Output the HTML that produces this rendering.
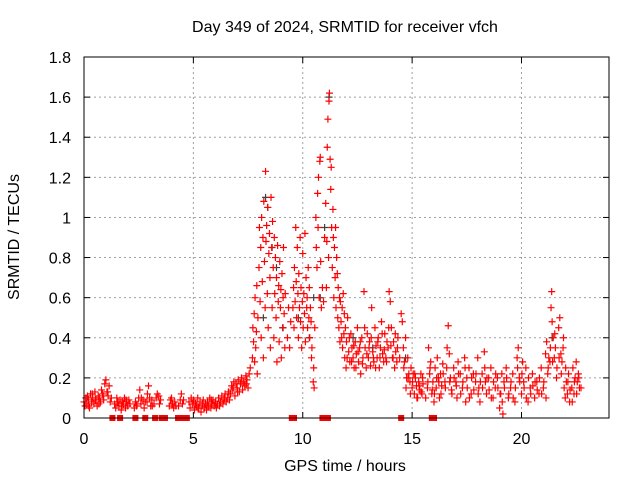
<!DOCTYPE html>
<html><head><meta charset="utf-8"><style>
body{margin:0;background:#fff}
svg{display:block;font-family:"Liberation Sans",sans-serif}
</style></head><body>
<svg id="chart" width="640" height="480" viewBox="0 0 640 480">
<text x="345" y="32" text-anchor="middle" font-size="16">Day 349 of 2024, SRMTID for receiver vfch</text>
<text x="345" y="471" text-anchor="middle" font-size="16">GPS time / hours</text>
<text transform="translate(19,237) rotate(-90)" text-anchor="middle" font-size="16">SRMTID / TECUs</text>
<g id="grid"></g><g id="ticks"></g><g id="marks"></g>
<rect x="84" y="57" width="525" height="361" fill="none" stroke="#000" stroke-width="1"/>
</svg>
<script>
const xTicks=[0,5,10,15,20];
const yTicks=[0,0.2,0.4,0.6,0.8,1,1.2,1.4,1.6,1.8];
const yTickLabels=["0","0.2","0.4","0.6","0.8","1","1.2","1.4","1.6","1.8"];
const redT=[0,.05,.1,.13,.16,.2,.25,.3,.35,.4,.45,.5,.55,.6,.65,.7,.75,.8,.85,.9,.95,1,1.05,1.1,1.15,1.2,1.25,
1.4,1.45,1.5,1.55,1.6,1.65,1.7,1.75,1.8,1.85,1.9,1.95,2,2.05,2.1,
2.3,2.35,2.4,2.5,2.55,2.6,2.7,2.75,2.8,2.9,2.95,3,3.05,3.1,3.2,3.3,3.35,3.45,3.5,
3.9,3.95,4,4.05,4.1,4.15,4.2,4.4,4.45,4.5,4.55,
4.8,4.85,4.9,4.95,5,5.05,5.1,5.15,5.2,5.25,5.3,5.35,5.4,5.45,5.5,5.55,5.6,5.65,5.7,5.75,5.8,5.85,5.9,5.95,6,6.05,6.1,6.15,6.2,6.25,6.3,6.35,6.4,6.45,6.5,6.55,6.6,6.65,
6.7,6.75,6.8,6.85,6.9,6.95,7,7.05,7.1,7.15,7.2,7.25,7.3,7.35,7.4,7.45,7.5,7.55,7.6,
7.7,7.72,7.75,7.78,7.8,7.82,7.85,7.88,7.9,7.92,7.95,8,8.02,8.05,8.08,8.1,8.12,8.15,8.18,8.2,8.22,8.25,8.28,8.3,8.32,8.35,8.38,8.4,8.42,8.45,8.48,8.5,8.52,8.55,8.58,8.6,8.62,8.65,8.68,8.7,8.72,8.75,8.78,8.8,8.82,8.85,8.88,8.9,8.92,8.95,8.98,9,9.02,9.05,9.08,9.1,9.12,9.15,9.18,9.2,
9.3,9.35,9.4,9.45,
9.55,9.58,9.6,9.62,9.65,9.68,9.7,9.72,9.75,9.78,9.8,9.82,9.85,9.88,9.9,9.92,9.95,9.98,10,10.02,10.05,10.08,10.1,10.12,10.15,10.18,10.2,10.22,10.25,10.28,10.3,10.32,10.35,10.38,10.4,10.42,
10.48,10.5,10.52,10.55,10.6,10.62,10.65,10.68,10.7,10.72,10.75,10.78,10.8,10.82,10.85,10.9,10.95,
11,11.05,11.08,11.1,11.12,11.15,11.18,11.2,11.22,11.25,11.28,11.3,11.32,11.35,11.38,11.4,11.42,11.45,11.48,11.5,11.52,11.55,11.58,11.6,11.62,11.65,11.68,11.7,11.72,11.75,11.78,11.8,11.82,11.85,11.88,11.9,11.92,11.95,11.98,12,
12.05,12.1,12.15,12.2,12.25,12.3,12.35,12.4,12.45,12.5,12.55,12.6,12.65,12.7,12.75,12.8,12.85,12.9,12.95,13,13.05,13.1,13.15,13.2,13.25,13.3,13.35,13.4,13.45,13.5,13.55,13.6,13.65,13.7,13.75,13.8,13.85,13.9,13.95,14,14.05,14.1,14.15,14.2,14.25,14.3,14.35,
14.5,14.55,14.6,14.65,14.7,14.75,14.8,14.85,14.9,14.95,15,15.05,15.1,15.15,15.2,15.25,15.3,15.35,15.4,15.45,15.5,
15.7,15.75,15.8,15.85,15.9,15.95,16,16.05,16.1,16.15,16.2,16.25,16.3,16.35,16.4,16.5,16.6,16.65,16.7,16.75,16.8,16.9,17,17.05,17.1,17.2,17.3,17.4,17.45,17.5,17.6,17.7,17.8,17.9,18,18.05,18.1,18.2,18.3,18.35,18.4,18.5,18.6,18.7,18.8,18.9,19,19.05,19.1,19.15,19.2,19.3,19.4,19.5,19.6,19.7,19.8,19.85,19.9,20,20.05,20.1,20.2,20.3,20.4,20.5,20.6,20.7,20.8,20.9,21,21.1,21.15,21.2,21.25,21.3,21.35,21.38,21.4,21.45,21.5,21.55,21.6,21.7,21.75,21.8,21.85,21.9,21.95,22,22.05,22.1,22.15,22.2,22.3,22.35,22.4,22.45,22.5,22.55,22.6,22.65];
const redV=[.08,.06,.10,.07,.11,.09,.05,.12,.08,.10,.07,.13,.09,.06,.11,.10,.08,.14,.12,.09,.17,.19,.13,.11,.16,.08,.10,
.07,.05,.10,.08,.06,.09,.04,.08,.07,.10,.05,.08,.06,.09,.07,
.05,.08,.06,.10,.14,.07,.09,.05,.08,.12,.16,.10,.06,.09,.07,.10,.12,.07,.09,
.06,.09,.10,.07,.05,.08,.06,.09,.12,.07,.09,
.08,.05,.10,.07,.09,.04,.07,.06,.10,.05,.08,.03,.06,.09,.05,.07,.04,.08,.06,.10,.05,.07,.09,.06,.08,.05,.07,.10,.06,.08,.11,.07,.09,.12,.08,.10,.13,.09,
.12,.16,.14,.18,.11,.17,.15,.19,.13,.17,.20,.14,.18,.16,.21,.19,.15,.22,.25,
.30,.45,.38,.52,.28,.60,.35,.43,.66,.22,.50,.75,.95,.58,.85,.40,1.0,.68,.90,.30,1.08,.78,.55,1.23,.88,.96,.62,1.05,.45,.82,.92,.70,.35,1.10,.85,.55,.98,.75,.40,.90,.62,.80,.50,.70,.28,.86,.58,.66,.38,.78,.55,.64,.30,.72,.45,.60,.85,.52,.35,.62,
.40,.55,.35,.48,
.55,.65,.45,.75,.58,.95,.68,.50,.85,.62,.40,.72,.55,.90,.48,.65,.35,.58,.82,.45,.62,.52,.92,.38,.70,.55,.60,.45,.75,.50,.65,.40,.55,.48,.30,.35,
.18,.25,.15,.45,1.0,.85,.75,1.12,.95,1.20,.60,1.28,1.30,.78,.55,.65,.58,
.90,1.07,.65,.88,1.35,1.49,.80,1.58,1.62,1.29,1.14,1.25,.95,.75,1.04,.90,.60,.85,.70,.95,.55,.80,.72,.50,.65,.45,.60,.38,.58,.48,.40,.55,.35,.62,.42,.52,.30,.45,.25,.38,
.50,.33,.28,.42,.35,.30,.25,.38,.32,.45,.28,.35,.22,.40,.30,.63,.35,.25,.42,.30,.38,.26,.55,.33,.28,.45,.36,.30,.40,.25,.35,.48,.32,.28,.42,.30,.38,.35,.63,.58,.45,.30,.38,.25,.33,.28,.40,
.52,.48,.35,.28,.40,.20,.30,.22,.18,.25,.15,.22,.12,.20,.16,.10,.18,.14,.22,.12,.17,
.15,.35,.22,.28,.12,.18,.08,.25,.15,.30,.20,.10,.22,.16,.27,.18,.35,.46,.32,.20,.14,.25,.18,.10,.28,.22,.15,.30,.08,.20,.25,.12,.22,.18,.30,.15,.08,.22,.33,.18,.12,.20,.25,.10,.15,.20,.05,.12,.22,.02,.18,.25,.10,.15,.22,.08,.30,.35,.20,.12,.28,.18,.25,.08,.15,.22,.10,.18,.12,.25,.15,.32,.38,.22,.30,.28,.55,.63,.48,.40,.30,.35,.20,.45,.50,.32,.28,.35,.15,.10,.18,.12,.22,.08,.15,.25,.12,.20,.28,.18,.22,.15];
const extraT=[12.03,12.13,12.23,12.33,12.43,12.53,12.63,12.73,12.83,12.93,13.03,13.13,13.23,13.33,13.43,13.53,13.63,13.73,13.83,13.93,14.03,14.13,14.23,14.33,14.43,
14.62,14.72,14.82,14.92,15.02,15.12,15.22,15.32,15.42,15.48,15.62,15.72,15.82,15.92,16.02,16.12,16.22,16.32,16.42,16.52,16.58,16.72,16.82,16.92,17.02,17.12,17.22,17.32,17.42,17.52,17.62,17.72,17.82,17.92,18.02,18.12,18.22,18.32,18.42,18.52,18.62,18.72,18.82,18.92,19.02,19.12,19.22,19.32,19.42,19.52,19.62,19.72,19.82,19.92,20.02,20.12,20.22,20.32,20.42,20.52,20.62,20.72,20.82,20.92,21.02,21.12,21.22,21.32,21.42,21.52,21.62,21.72,21.82,21.92,22.02,22.12,22.22,22.32,22.42,22.52,22.62,22.72,
0.08,0.22,0.38,0.52,0.68,0.88,1.08,1.52,1.72,1.92,2.42,2.62,2.88,3.12,3.42,4.02,4.32,5.02,5.22,5.42,5.62,5.82,6.02,6.22,6.42,6.62,6.82,7.02,7.22,7.42];
const extraV=[.30,.40,.28,.36,.25,.33,.38,.27,.45,.32,.35,.40,.30,.25,.38,.30,.42,.34,.28,.45,.36,.30,.42,.35,.30,
.25,.15,.20,.12,.18,.22,.10,.16,.13,.20,.10,.18,.25,.14,.12,.20,.18,.12,.22,.15,.25,.18,.12,.20,.16,.22,.12,.18,.25,.15,.10,.20,.14,.22,.12,.18,.15,.25,.20,.14,.10,.18,.22,.15,.12,.08,.15,.20,.12,.18,.10,.15,.25,.18,.22,.15,.10,.20,.12,.16,.18,.14,.20,.12,.18,.10,.25,.35,.28,.42,.25,.30,.22,.40,.25,.18,.14,.08,.18,.12,.20,.15,
.10,.06,.12,.09,.07,.11,.13,.08,.06,.09,.07,.10,.08,.06,.11,.07,.06,.08,.05,.07,.06,.09,.07,.08,.10,.12,.15,.13,.18,.17];
const grayT=[8.2,8.3,8.4,8.6,8.8,9.1,9.8,10.3,10.5,10.8,11.0,11.2,12.3,14.7,13.2,21.4];
const grayV=[.50,1.10,1.05,.85,.75,.45,.50,.40,.60,.60,.95,1.60,.40,.30,.35,.40];
const zeroT=[1.3,1.65,2.35,2.8,3.25,3.55,3.7,4.3,4.55,4.7,9.5,9.6,10.9,11.0,11.15,14.5,15.9,16.0];

const X0=84,X1=609,Y0=418,Y1=57,XMAX=24,YMAX=1.8;
const sx=v=>X0+(X1-X0)*v/XMAX, sy=v=>Y0-(Y0-Y1)*v/YMAX;
const NS="http://www.w3.org/2000/svg";
const grid=document.getElementById('grid'),ticks=document.getElementById('ticks'),marks=document.getElementById('marks');
function mk(tag,attrs,parent){const e=document.createElementNS(NS,tag);for(const k in attrs)e.setAttribute(k,attrs[k]);parent.appendChild(e);return e;}
xTicks.forEach(t=>{
  const x=sx(t);
  if(t>0){const g=mk('line',{x1:x,x2:x,y1:Y1,y2:Y0,stroke:'#a0a0a0','stroke-dasharray':'2,3'},grid);
  
  }
  mk('line',{x1:x,x2:x,y1:Y0,y2:Y0-6,stroke:'#000'},ticks);
  mk('line',{x1:x,x2:x,y1:Y1,y2:Y1+6,stroke:'#000'},ticks);
  const l=mk('text',{x:x,y:444,'text-anchor':'middle','font-size':'16'},ticks);l.textContent=t;
  
  
});
yTicks.forEach((t,i)=>{
  const y=sy(t);
  if(t>0&&t<YMAX){const g=mk('line',{x1:X0,x2:X1,y1:y,y2:y,stroke:'#a0a0a0','stroke-dasharray':'2,3'},grid);
  
  }
  mk('line',{x1:X0,x2:X0+6,y1:y,y2:y,stroke:'#000'},ticks);
  mk('line',{x1:X1,x2:X1-6,y1:y,y2:y,stroke:'#000'},ticks);
  const l=mk('text',{x:71,y:y+6,'text-anchor':'end','font-size':'16'},ticks);l.textContent=yTickLabels[i];
  
  
});
function plus(t,v,col,name){
  const x=sx(t),y=sy(v);
  const p=mk('path',{d:`M${x-3.5},${y}H${x+3.5}M${x},${y-3.5}V${y+3.5}`,stroke:col,'stroke-width':'1.2',fill:'none'},marks);
  
  
}
grayT.forEach((t,i)=>plus(t,grayV[i],'#404040','gray-point'));
redT.forEach((t,i)=>plus(t,redV[i],'#ff0000','red-point'));
extraT.forEach((t,i)=>plus(t,extraV[i],'#ff0000','red-point'));
zeroT.forEach(t=>{
  const r=mk('rect',{x:sx(t)-3,y:Y0-3,width:6,height:6,fill:'#ff0000'},marks);
  
  
});
</script>
</body></html>
